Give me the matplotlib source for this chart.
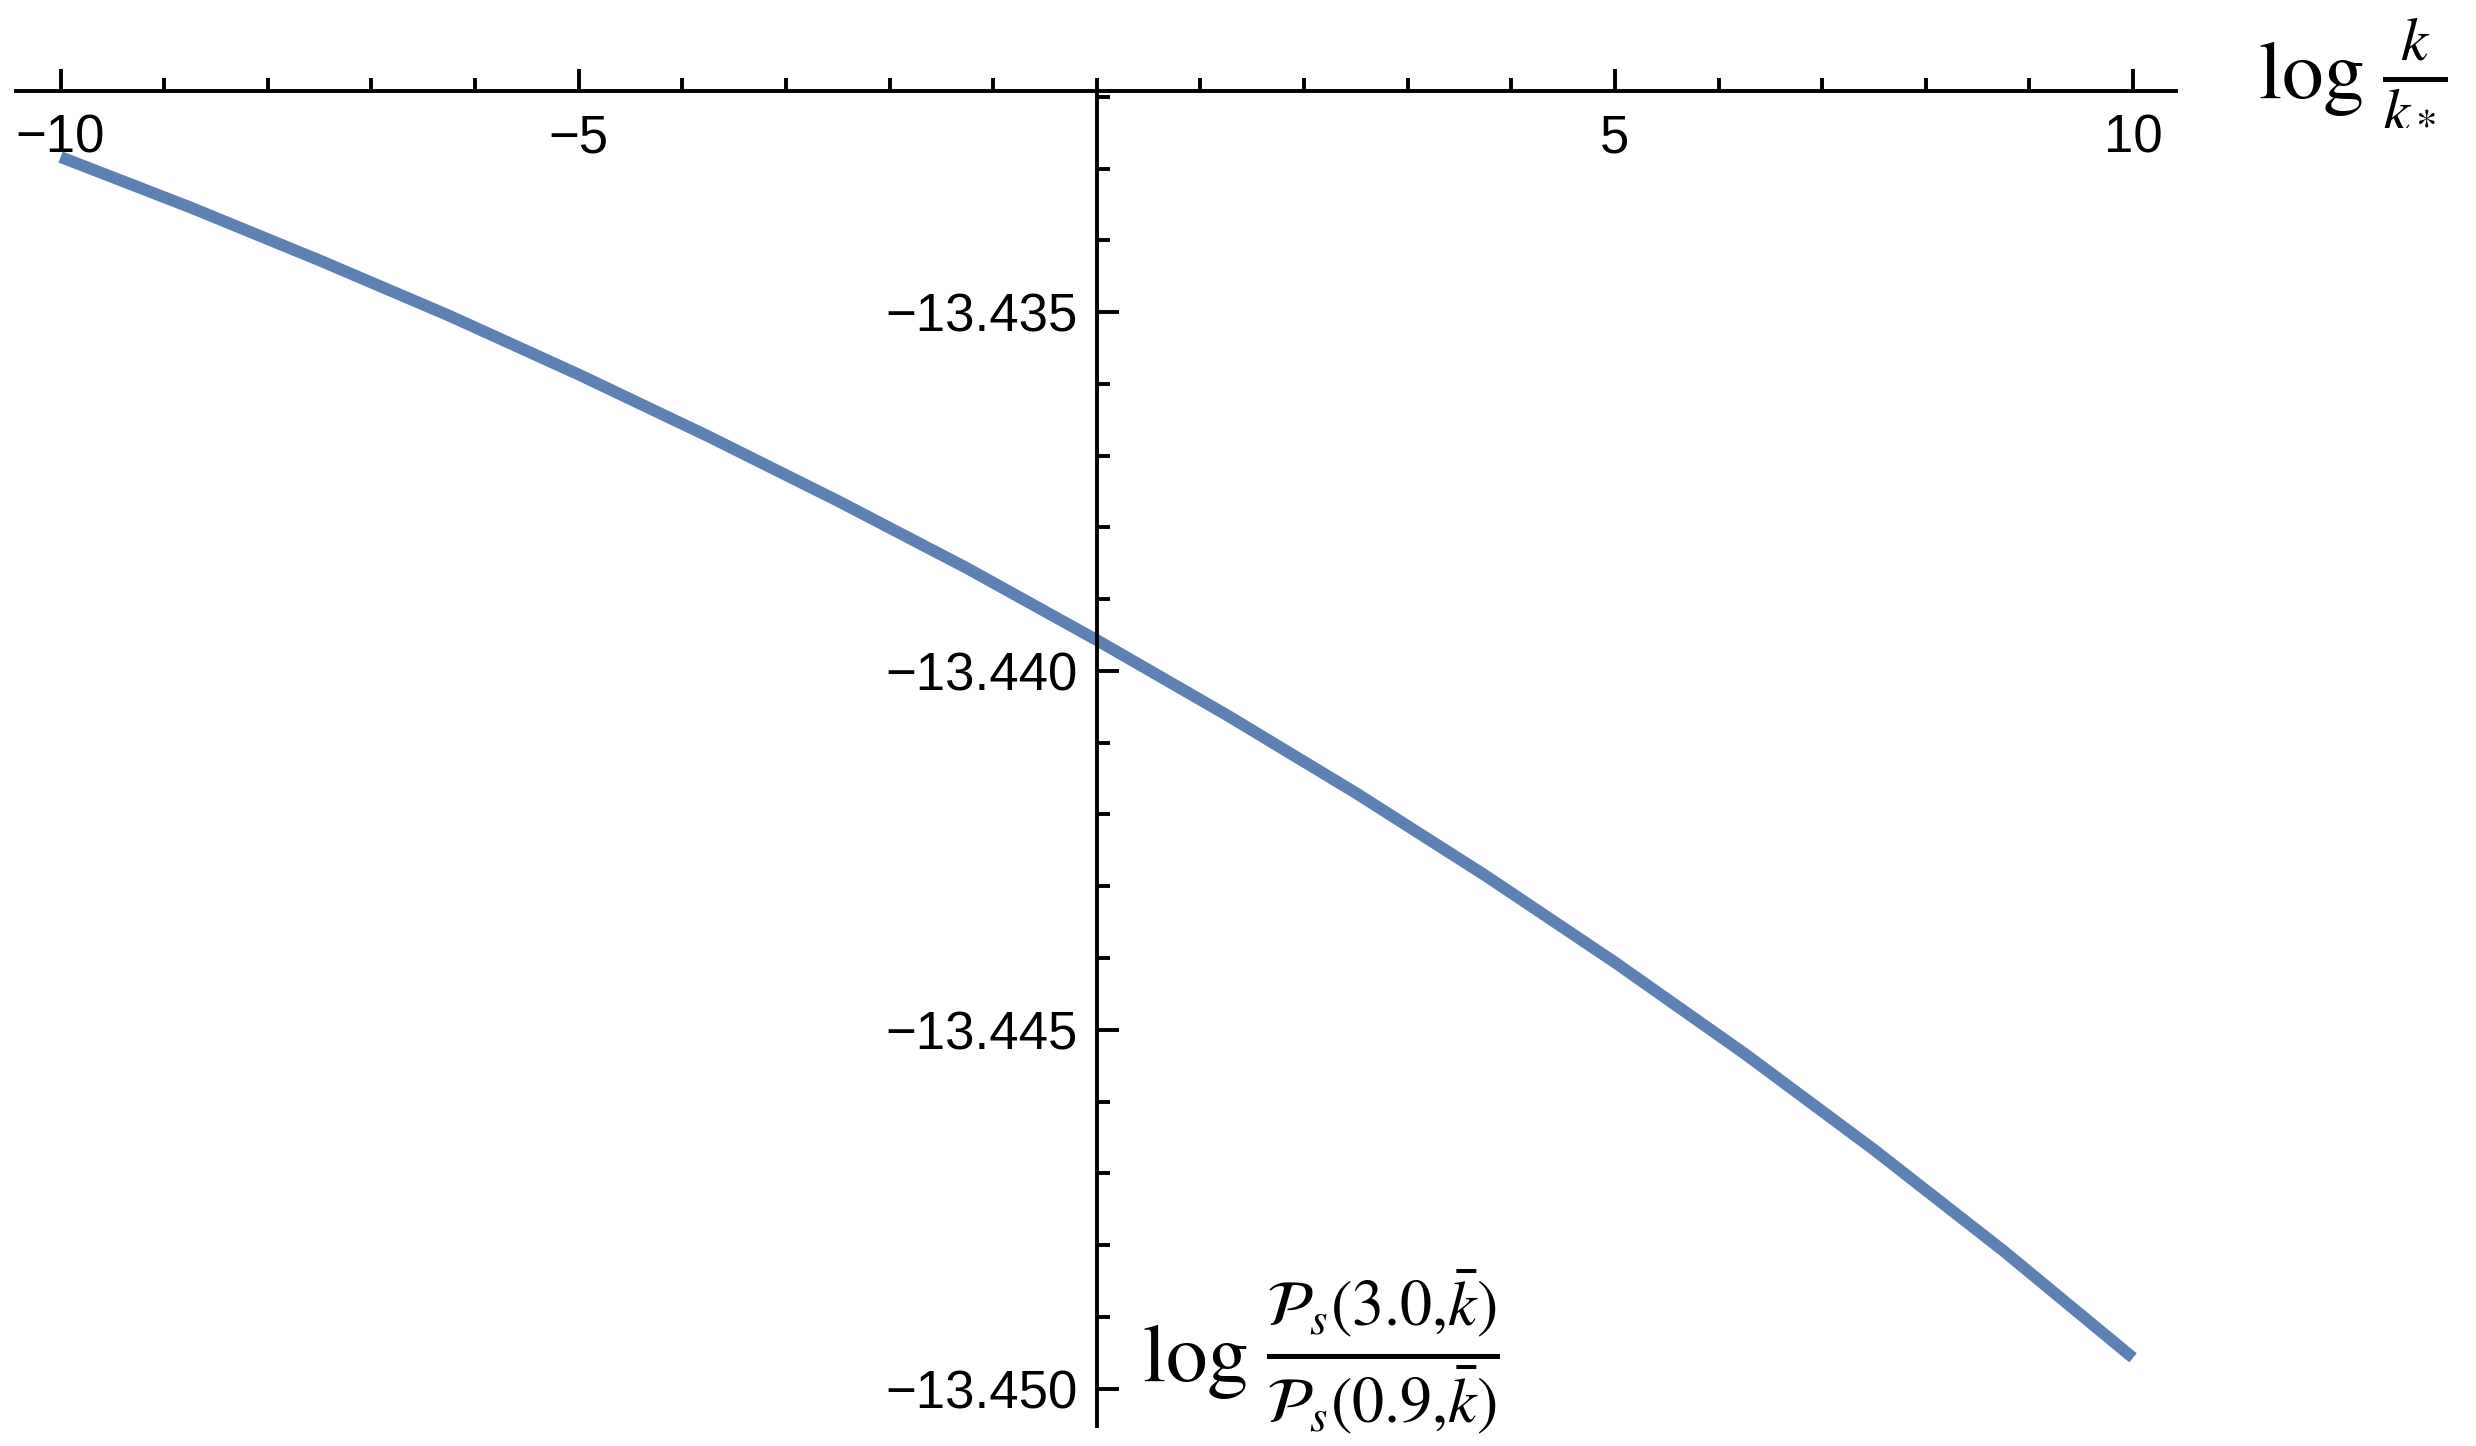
import numpy as np
import matplotlib
matplotlib.use("Agg")
import matplotlib.pyplot as plt
from matplotlib.ticker import MultipleLocator, FuncFormatter

plt.rcParams.update({
    "font.family": ["Liberation Sans", "DejaVu Sans"],
    "mathtext.fontset": "stix",
    "axes.unicode_minus": True,
})

# values
log_k = [-10, -8.75, -7.5, -6.25, -5, -3.75, -2.5, -1.25, 0,
         1.25, 2.5, 3.75, 5, 6.25, 7.5, 8.75, 10]
log_ratio = [-13.43284, -13.43354, -13.43428, -13.43505, -13.43587,
             -13.43673, -13.43763, -13.43857, -13.43957, -13.44061,
             -13.44170, -13.44285, -13.44406, -13.44533, -13.44667,
             -13.44808, -13.44957]

x_ticks = [-10, -5, 5, 10]
y_ticks = [-13.450, -13.445, -13.440, -13.435]

W, H = 2476, 1446
fig = plt.figure(figsize=(W / 100, H / 100), dpi=100)

# axes box in pixels (left, right, top, bottom measured from top-left)
left, right, top, bottom = 16, 2176, 91, 1426
ax = fig.add_axes([left / W, 1 - bottom / H, (right - left) / W, (bottom - top) / H])

ax.plot(log_k, log_ratio, color="#5E81B5", lw=8.5, solid_capstyle="butt",
        solid_joinstyle="round", clip_on=False)

ax.set_xlim(-10.43, 10.415)
ax.set_ylim(-13.45052, -13.43192)

for s in ["right", "top"]:
    ax.spines[s].set_visible(False)
ax.spines["bottom"].set_position(("data", -13.43192))
ax.spines["left"].set_position(("data", 0))
for s in ["bottom", "left"]:
    ax.spines[s].set_linewidth(2.8)

ax.set_xticks(x_ticks)
ax.xaxis.set_minor_locator(MultipleLocator(1))
ax.set_yticks(y_ticks)
ax.yaxis.set_minor_locator(MultipleLocator(0.001))
ax.yaxis.set_major_formatter(FuncFormatter(lambda v, p: ("%.3f" % v).replace("-", "\u2212")))

ax.tick_params(axis="both", which="both", direction="in", width=2.8, labelsize=38)
ax.tick_params(axis="both", which="major", length=16)
ax.tick_params(axis="both", which="minor", length=9.5)
ax.tick_params(axis="x", which="major", pad=16)
ax.tick_params(axis="y", which="major", pad=14)

# axis labels: "log" and the fraction as separate texts
fig.text(2258 / W, 1 - 98 / H, r"$\log$", fontsize=60, ha="left", va="baseline")
fig.text(2382 / W, 1 - 88 / H, r"$\frac{k}{k_*}$", fontsize=63,
         ha="left", va="baseline")

fig.text(1142 / W, 1 - 1381 / H, r"$\log$", fontsize=60, ha="left", va="baseline")
fig.text(1266 / W, 1 - 1372 / H,
         r"$\frac{\mathcal{P}_s(3.0{,}\bar{k})}{\mathcal{P}_s(0.9{,}\bar{k})}$",
         fontsize=66, ha="left", va="baseline")

fig.savefig("out.png", dpi=100)
